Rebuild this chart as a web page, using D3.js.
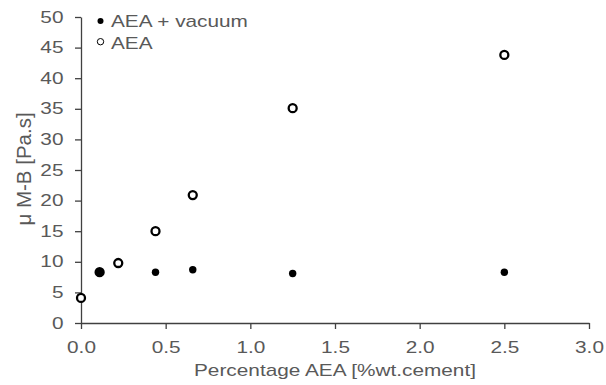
<!DOCTYPE html>
<html><head><meta charset="utf-8">
<script src="https://cdn.jsdelivr.net/npm/d3@7"></script>
<style>body{margin:0;background:#fff}</style>
</head><body>
<svg id="c" width="606" height="385"></svg>
<script>
const vacuumX = [0.11, 0.44, 0.66, 1.25, 2.5];
const vacuumY = [8.3, 8.3, 8.7, 8.1, 8.3];
const aeaX = [0, 0.11, 0.22, 0.44, 0.66, 1.25, 2.5];
const aeaY = [4.1, 8.3, 9.8, 15.0, 20.9, 35.1, 43.8];
const xTicks = [0, 0.5, 1.0, 1.5, 2.0, 2.5, 3.0];
const yTicks = [0, 5, 10, 15, 20, 25, 30, 35, 40, 45, 50];
const seriesNames = ["AEA + vacuum", "AEA"];

const svg = d3.select("#c");
const font = "'Liberation Sans', Arial, sans-serif";
const SX = 1.3; // horizontal stretch of the reference's text
const x = d3.scaleLinear().domain([0, 3]).range([81, 589]);
const y = d3.scaleLinear().domain([0, 50]).range([323, 17]);
const txt = "#595959", ax = "#404040";

const gx = svg.append("g").attr("transform", "translate(0,323)")
  .call(d3.axisBottom(x).tickValues(xTicks).tickFormat(d3.format(".1f")).tickSize(6).tickSizeOuter(0).tickPadding(13));
const gy = svg.append("g").attr("transform", "translate(81,0)")
  .call(d3.axisLeft(y).tickValues(yTicks).tickSize(6).tickSizeOuter(0).tickPadding(6));
[gx, gy].forEach(g => {
  g.selectAll("path,line").attr("stroke", ax).attr("stroke-width", 1.3);
  g.selectAll("text").attr("fill", txt).style("font-family", font).style("font-size", "16px");
});
gx.selectAll(".tick text").attr("transform", `scale(${SX},1)`);
gy.selectAll(".tick text").attr("x", -17.5 / SX).attr("transform", `scale(${SX},1)`);

function label(px, py, s, anchor, sx, size, rot) {
  const g = svg.append("g").attr("transform", `translate(${px},${py}) scale(${sx},1)` + (rot ? ` rotate(${rot})` : ""));
  g.append("text").attr("text-anchor", anchor).attr("fill", txt)
    .style("font-family", font).style("font-size", size + "px").text(s);
}
label(335, 376, "Percentage AEA [%wt.cement]", "middle", SX, 16);
label(31, 169, "μ M-B [Pa.s]", "middle", 1, 20.5, -90);

svg.append("g").selectAll("circle").data(aeaX.map((d, i) => [d, aeaY[i]])).join("circle")
  .attr("cx", d => x(d[0])).attr("cy", d => y(d[1])).attr("r", 4)
  .attr("fill", "#fff").attr("stroke", "#000").attr("stroke-width", 2.3);
svg.append("g").selectAll("circle").data(vacuumX.map((d, i) => [d, vacuumY[i]])).join("circle")
  .attr("cx", d => x(d[0])).attr("cy", d => y(d[1])).attr("r", 3.7).attr("fill", "#000");

// legend
svg.append("circle").attr("cx", 100.5).attr("cy", 21).attr("r", 3).attr("fill", "#000");
svg.append("circle").attr("cx", 100.5).attr("cy", 41.7).attr("r", 3.2).attr("fill", "#fff").attr("stroke", "#000").attr("stroke-width", 1);
seriesNames.forEach((s, i) => label(111, 27.3 + i * 21.5, s, "start", SX, 16));
</script>
</body></html>
